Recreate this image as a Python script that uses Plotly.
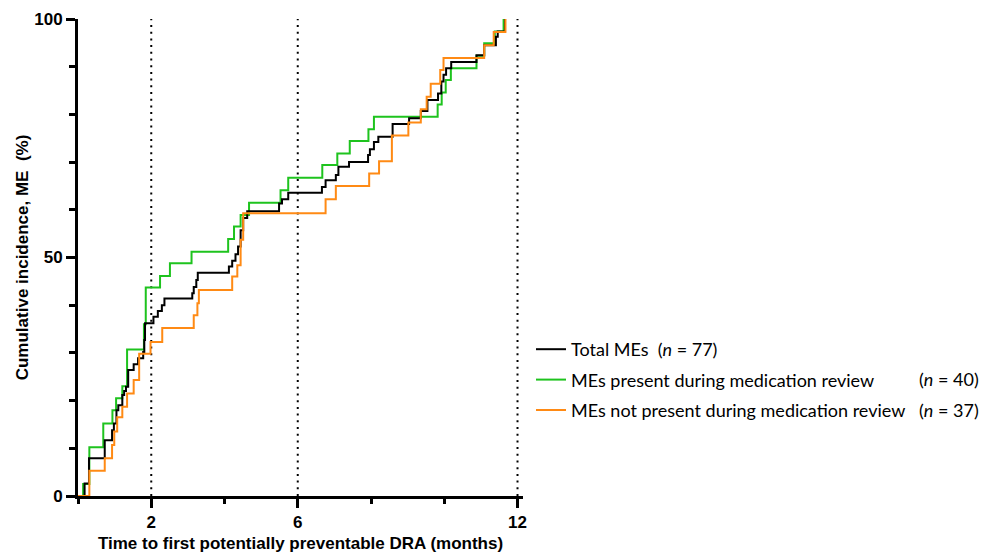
import plotly.graph_objects as go

# ---- data (months, cumulative incidence %) ----
total_months = [0, 0.18, 0.30, 0.73, 0.93, 0.98, 1.05, 1.10, 1.21, 1.26, 1.31, 1.37, 1.52, 1.64,
                1.78, 1.81, 1.83, 2.06, 2.18, 2.29, 2.36, 3.12, 3.16, 3.23, 3.27, 4.12, 4.21,
                4.30, 4.37, 4.44, 4.51, 4.62, 5.49, 5.57, 5.74, 6.66, 6.76, 7.04, 7.11, 7.40,
                7.92, 7.97, 8.08, 8.20, 8.59, 9.04, 9.36, 9.54, 9.83, 9.92, 9.98, 10.05, 10.19,
                10.88, 11.09, 11.41, 11.46, 11.66]
total_pct = [0, 2.6, 7.9, 11.7, 13.8, 15.2, 18.0, 19.0, 21.2, 22.0, 22.9, 26.4, 27.6, 28.9,
             30.2, 32.7, 36.2, 37.6, 38.8, 40.0, 41.4, 42.5, 43.8, 45.3, 46.8, 48.1, 49.3,
             50.7, 52.3, 55.7, 58.3, 59.7, 61.3, 62.2, 63.6, 64.8, 66.2, 67.3, 69.0, 70.0,
             71.5, 72.7, 74.2, 75.3, 78.0, 79.2, 80.7, 83.0, 84.4, 86.9, 88.3, 89.7, 91.0,
             92.4, 94.5, 96.3, 97.4, 100]

present_months = [0, 0.14, 0.31, 0.69, 0.94, 1.04, 1.21, 1.34, 1.80, 1.85, 2.24, 2.51, 3.10,
                  4.10, 4.26, 4.44, 4.67, 5.53, 5.74, 6.67, 7.08, 7.42, 7.93, 8.08, 9.82,
                  9.93, 10.04, 10.18, 10.88, 11.09, 11.38, 11.62]
present_pct = [0, 2.5, 10.2, 15.2, 18.0, 20.5, 23.0, 30.7, 36.0, 43.7, 46.1, 48.8, 51.2,
               53.9, 56.5, 58.9, 61.5, 64.1, 66.7, 69.4, 71.8, 74.4, 76.9, 79.5, 82.1,
               84.6, 87.2, 89.7, 92.3, 94.9, 97.4, 100]

notpresent_months = [0, 0.31, 0.73, 0.93, 0.99, 1.07, 1.21, 1.34, 1.52, 1.67, 1.98, 2.30,
                     3.16, 3.26, 3.30, 4.21, 4.35, 4.44, 4.51, 6.76, 7.04, 7.95, 8.22, 8.57,
                     9.02, 9.36, 9.52, 9.63, 9.89, 9.98, 11.09, 11.35, 11.67]
notpresent_pct = [0, 5.3, 7.9, 10.7, 13.5, 16.5, 18.7, 21.5, 24.3, 29.8, 32.3, 35.2,
                  37.9, 40.4, 43.2, 46.0, 48.4, 53.7, 59.3, 62.2, 65.0, 67.6, 70.2, 75.6,
                  78.3, 81.1, 83.7, 86.4, 89.3, 91.8, 94.5, 97.3, 100]

series_names = ["Total MEs  (<i>n</i> = 77)",
                "MEs present during medication review",
                "MEs not present during medication review"]
n_labels = ["(<i>n</i> = 40)", "(<i>n</i> = 37)"]
x_tick_vals = [2, 6, 12]
x_tick_text = ["2", "6", "12"]
y_tick_vals = [0, 50, 100]
y_tick_text = ["0", "50", "100"]
ref_months = [2, 6, 12]

BLACK = "#000000"
GREEN = "#1EC31E"
ORANGE = "#FF8A14"

fig = go.Figure()

# dotted reference lines
for m in ref_months:
    fig.add_shape(type="line", xref="x", yref="y", x0=m, x1=m, y0=0, y1=100,
                  line=dict(color="black", width=2, dash="2px,4.7px"), layer="below")

fig.add_trace(go.Scatter(x=present_months, y=present_pct, mode="lines", line_shape="hv",
                         line=dict(color=GREEN, width=2), name=series_names[1],
                         legendrank=2, legendgroup="g2"))
fig.add_trace(go.Scatter(x=total_months, y=total_pct, mode="lines", line_shape="hv",
                         line=dict(color=BLACK, width=2), name=series_names[0],
                         legendrank=1, legendgroup="g1"))
fig.add_trace(go.Scatter(x=notpresent_months, y=notpresent_pct, mode="lines", line_shape="hv",
                         line=dict(color=ORANGE, width=2), name=series_names[2],
                         legendrank=3, legendgroup="g3"))

# page body margin offsets the figure by 8px; work in screen pixels
OFF = 8
W, H = 991 - 2 * OFF, 554 - OFF
plot_left, plot_right, plot_top, plot_bottom = 78 - OFF, 523 - OFF, 19 - OFF, 496 - OFF
L, R, T, B = plot_left, W - plot_right, plot_top, H - plot_bottom
pw = plot_right - plot_left
ph = plot_bottom - plot_top

def px_to_paper_x(px):
    return (px - OFF - plot_left) / pw

def px_to_paper_y(py):
    return (plot_bottom - (py - OFF)) / ph

for lbl, py in zip(n_labels, [379, 410]):
    fig.add_annotation(text=lbl, xref="paper", yref="paper", x=px_to_paper_x(917),
                       y=px_to_paper_y(py), xanchor="left", yanchor="middle",
                       showarrow=False, font=dict(family="Lato", size=18, color="black"))

axis_font = dict(family="Liberation Sans", size=17, color="black", weight="bold")
title_font = dict(family="Liberation Sans", size=17, color="black", weight="bold")

fig.update_layout(
    width=W, height=H,
    margin=dict(l=L, r=R, t=T, b=B, pad=0),
    plot_bgcolor="white", paper_bgcolor="white",
    showlegend=True,
    legend=dict(x=px_to_paper_x(531), y=px_to_paper_y(331), xanchor="left", yanchor="top",
                font=dict(family="Lato", size=18, color="black"),
                traceorder="grouped", tracegroupgap=4, bgcolor="rgba(0,0,0,0)",
                borderwidth=0, itemwidth=30),
    xaxis=dict(range=[0, 12.15], showgrid=False, zeroline=False, automargin=False,
               showline=True, linecolor="black", linewidth=3,
               tickmode="array", tickvals=x_tick_vals, ticktext=x_tick_text,
               ticks="outside", ticklen=9, tickwidth=3, tickcolor="black",
               tickfont=axis_font,
               minor=dict(tickmode="linear", tick0=0, dtick=2, ticks="outside",
                          ticklen=5, tickwidth=3, tickcolor="black"),
               title=dict(text="Time to first potentially preventable DRA (months)",
                          font=title_font, standoff=6)),
    yaxis=dict(range=[0, 100], showgrid=False, zeroline=False, automargin=False,
               showline=True, linecolor="black", linewidth=3,
               tickmode="array", tickvals=y_tick_vals, ticktext=y_tick_text,
               ticks="outside", ticklen=9, tickwidth=3, tickcolor="black",
               tickfont=axis_font,
               minor=dict(tickmode="linear", tick0=0, dtick=10, ticks="outside",
                          ticklen=6, tickwidth=3, tickcolor="black"),
               title=dict(text="Cumulative incidence, ME  (%)", font=title_font, standoff=2)),
)

fig.write_html("out.html")
